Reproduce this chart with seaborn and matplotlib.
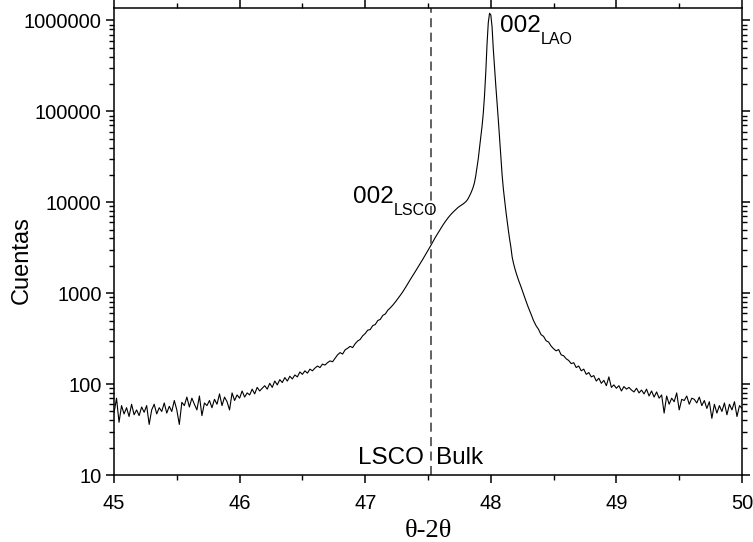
import numpy as np
import pandas as pd
import matplotlib
matplotlib.use("Agg")
import matplotlib.pyplot as plt
from matplotlib.ticker import FixedLocator, LogLocator, FuncFormatter, NullFormatter
import seaborn as sns

# scan steps: 0.02 deg away from the substrate peak, 0.01 deg around it
two_theta = np.concatenate([
    np.arange(45.00, 47.801, 0.02),
    np.arange(47.81, 48.201, 0.01),
    np.arange(48.22, 50.001, 0.02),
]).round(2)

# counts
counts_left = [
    48, 70, 38, 58, 47, 55, 44, 60, 46, 52,
    45, 56, 49, 58, 36, 52, 60, 47, 55, 50,
    62, 48, 57, 50, 66, 52, 36, 63, 58, 72,
    56, 70, 60, 52, 74, 45, 62, 58, 66, 55,
    68, 60, 78, 58, 72, 64, 52, 80, 66, 76,
    70, 84, 72, 80, 76, 88, 78, 92, 84, 90,
    96, 88, 102, 92, 108, 98, 112, 104, 118, 108,
    122, 114, 126, 120, 136, 128, 140, 132, 146, 140,
    150, 158, 152, 166, 162, 172, 180, 176, 192, 210,
    222, 214, 238, 248, 260, 252, 278, 298, 310, 340,
    360, 392, 398, 440, 452, 500, 515, 570, 590, 650,
    690, 740, 800, 870, 950, 1040, 1150, 1280, 1420, 1570,
    1740, 1930, 2140, 2380, 2650, 2960, 3300, 3700, 4150, 4600,
    5100, 5650, 6200, 6750, 7300, 7800, 8300, 8800, 9200, 9600,
    10100,
]
counts_peak = [
    10500, 11000, 11700, 12500, 13500, 14700, 16500, 19500, 24000, 30000,
    40000, 52000, 68000, 95000, 150000, 270000, 550000, 950000, 1200000, 1150000,
    850000, 480000, 300000, 190000, 125000, 80000, 50000, 32000, 20000, 14000,
    10500, 8000, 6200, 4900, 3900, 3200, 2500, 2150, 1900, 1700,
]
counts_right = [
    1400, 1180, 980, 820, 690, 590, 500, 440, 400, 350,
    335, 300, 290, 262, 245, 232, 240, 210, 205, 190,
    182, 168, 172, 152, 158, 140, 146, 128, 134, 120,
    124, 108, 116, 102, 110, 96, 120, 92, 98, 90,
    96, 84, 94, 88, 92, 86, 82, 90, 80, 86,
    78, 88, 74, 84, 72, 82, 70, 76, 48, 74,
    60, 70, 64, 80, 52, 68, 66, 74, 60, 70,
    68, 62, 72, 58, 66, 54, 64, 42, 60, 48,
    58, 50, 62, 46, 60, 52, 64, 44, 58, 54,
]
counts = counts_left + counts_peak + counts_right
assert len(counts) == len(two_theta)

bulk_position = 47.52
x_ticks = [45, 46, 47, 48, 49, 50]
y_ticks = [10, 100, 1000, 10000, 100000, 1000000]

df = pd.DataFrame({"theta": two_theta, "counts": counts})

sns.set_style("ticks")
plt.rcParams["font.family"] = ["Liberation Sans", "DejaVu Sans"]
plt.rcParams["text.color"] = "black"
plt.rcParams["axes.labelcolor"] = "black"

fig = plt.figure(figsize=(7.53, 5.42), dpi=100)
ax = fig.add_axes([0.1514, 0.1236, 0.8340, 0.8616])

sns.lineplot(data=df, x="theta", y="counts", color="black", linewidth=0.8,
             sort=False, ax=ax)
ax.axvline(bulk_position, color="#555555", linestyle=(0, (5, 3)), linewidth=1.3)

ax.set_yscale("log")
ax.set_xlim(45, 50)
ax.set_ylim(10, 1.37e6)

ax.xaxis.set_major_locator(FixedLocator(x_ticks))
ax.xaxis.set_minor_locator(FixedLocator([45.5, 46.5, 47.5, 48.5, 49.5]))
ax.yaxis.set_major_locator(FixedLocator(y_ticks))
ax.yaxis.set_minor_locator(LogLocator(base=10, subs=np.arange(2, 10)))
ax.yaxis.set_major_formatter(FuncFormatter(lambda v, p: f"{int(round(v))}"))
ax.yaxis.set_minor_formatter(NullFormatter())

for s in ax.spines.values():
    s.set_linewidth(1.1)
    s.set_color("black")
ax.tick_params(which="major", direction="out", length=6, width=1.1,
               labelsize=14.5, colors="black")
ax.tick_params(which="minor", direction="out", length=3.3, width=1.0,
               colors="black")
ax.tick_params(axis="x", which="major", pad=8)
ax.tick_params(axis="y", which="major", pad=3)
ax.tick_params(which="both", top=True, right=True)
ax.tick_params(axis="both", which="major", labeltop=False, labelright=False)

ax.set_xlabel("θ-2θ", fontsize=19, family=["Liberation Serif", "DejaVu Serif"],
              labelpad=5)
ax.set_ylabel("")
fig.text(22 / 753, 1 - 260 / 542, "Cuentas", rotation=90, fontsize=17,
         ha="center", va="center")


def label_with_sub(x, y, main, sub):
    t = ax.text(x, y, main, fontsize=17.5, va="baseline")
    ax.annotate(sub, xy=(1, 0.22), xycoords=t, fontsize=11.5,
                ha="left", va="top")


label_with_sub(48.07, 7.5e5, "002", "LAO")
label_with_sub(46.90, 9800, "002", "LSCO")
ax.text(47.465, 13.2, "LSCO", fontsize=17.5, va="baseline", ha="right")
ax.text(47.56, 13.2, "Bulk", fontsize=17.5, va="baseline", ha="left")

fig.savefig("out.png", dpi=100)
